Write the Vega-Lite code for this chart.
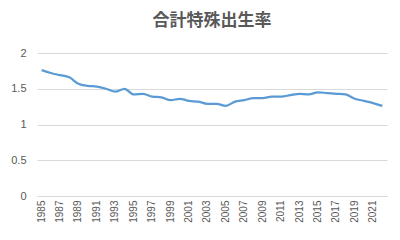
{
  "$schema": "https://vega.github.io/schema/vega-lite/v6.json",
  "width": 350,
  "height": 143,
  "autosize": {"type": "none"},
  "padding": {"left": 37, "top": 53, "right": 13, "bottom": 44},
  "background": "white",
  "title": {"text": "合計特殊出生率", "font": "Noto Sans CJK JP", "fontSize": 17, "fontWeight": "bold", "color": "#595959", "anchor": "middle", "offset": 17},
  "config": {"view": {"stroke": null}},
  "data": {"values": [
    {"year": "1985", "tfr": 1.76}, {"year": "1986", "tfr": 1.72}, {"year": "1987", "tfr": 1.69}, {"year": "1988", "tfr": 1.66},
    {"year": "1989", "tfr": 1.57}, {"year": "1990", "tfr": 1.54}, {"year": "1991", "tfr": 1.53}, {"year": "1992", "tfr": 1.50},
    {"year": "1993", "tfr": 1.46}, {"year": "1994", "tfr": 1.50}, {"year": "1995", "tfr": 1.42}, {"year": "1996", "tfr": 1.43},
    {"year": "1997", "tfr": 1.39}, {"year": "1998", "tfr": 1.38}, {"year": "1999", "tfr": 1.34}, {"year": "2000", "tfr": 1.36},
    {"year": "2001", "tfr": 1.33}, {"year": "2002", "tfr": 1.32}, {"year": "2003", "tfr": 1.29}, {"year": "2004", "tfr": 1.29},
    {"year": "2005", "tfr": 1.26}, {"year": "2006", "tfr": 1.32}, {"year": "2007", "tfr": 1.34}, {"year": "2008", "tfr": 1.37},
    {"year": "2009", "tfr": 1.37}, {"year": "2010", "tfr": 1.39}, {"year": "2011", "tfr": 1.39}, {"year": "2012", "tfr": 1.41},
    {"year": "2013", "tfr": 1.43}, {"year": "2014", "tfr": 1.42}, {"year": "2015", "tfr": 1.45}, {"year": "2016", "tfr": 1.44},
    {"year": "2017", "tfr": 1.43}, {"year": "2018", "tfr": 1.42}, {"year": "2019", "tfr": 1.36}, {"year": "2020", "tfr": 1.33},
    {"year": "2021", "tfr": 1.30}, {"year": "2022", "tfr": 1.26}
  ]},
  "mark": {"type": "line", "color": "#5b9bd5", "strokeWidth": 2.25, "interpolate": "monotone"},
  "encoding": {
    "x": {"field": "year", "type": "ordinal", "scale": {"type": "band", "paddingInner": 0, "paddingOuter": 0},
      "axis": {"title": null, "labelAngle": -90, "labelAlign": "right", "labelBaseline": "middle", "labelFont": "Liberation Sans", "labelFontSize": 10, "labelColor": "#595959", "ticks": false, "domainColor": "#d9d9d9", "labelPadding": 4,
        "labelExpr": "toNumber(datum.value) % 2 == 1 ? datum.value : ''"}},
    "y": {"field": "tfr", "type": "quantitative", "scale": {"domain": [0, 2]},
      "axis": {"title": null, "values": [0, 0.5, 1, 1.5, 2], "format": "~g", "domain": false, "ticks": false, "gridColor": "#d9d9d9", "labelFont": "Liberation Sans", "labelFontSize": 11, "labelColor": "#595959", "labelPadding": 11}}
  }
}
